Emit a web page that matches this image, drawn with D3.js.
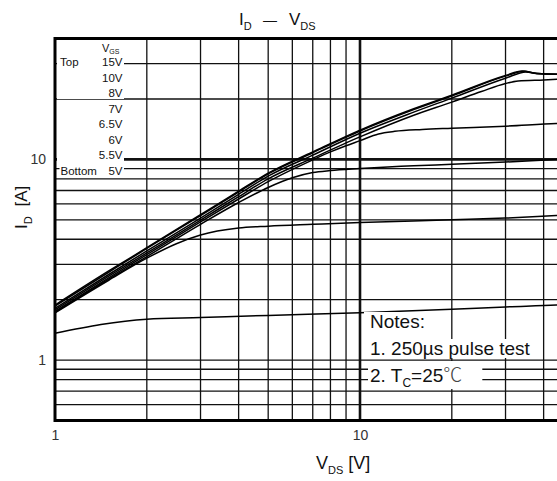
<!DOCTYPE html>
<html>
<head>
<meta charset="utf-8">
<script src="https://cdn.jsdelivr.net/npm/d3@7"></script>
<style>
  body { margin: 0; background: #fff; }
  svg { display: block; font-family: "Liberation Sans", Arial, sans-serif; }
</style>
</head>
<body>
<div id="chart"></div>
<script>
// ID - VDS output characteristics
const vgsLabels = ['15V', '10V', '8V', '7V', '6.5V', '6V', '5.5V', '5V'];

// [VDS (V), ID (A)] per gate voltage
const curve15V = [[1,1.88],[1.5,2.78],[2,3.63],[3,5.3],[4,6.95],[5,8.55],[7,10.9],[10,14.0],[15,17.9],[20,20.9],[30,26.2],[34,27.6],[38,26.8],[44,26.6],[50,26.6]];
const curve10V = [[1,1.86],[1.5,2.74],[2,3.6],[3,5.25],[4,6.88],[5,8.47],[7,10.8],[10,13.85],[15,17.7],[20,20.7],[30,26.0],[34.5,27.5],[38,26.8],[44,26.6],[50,26.6]];
const curve8V  = [[1,1.81],[1.5,2.67],[2,3.5],[3,5.1],[4,6.7],[5,8.25],[7,10.5],[10,13.5],[15,17.2],[20,20.2],[30,25.4],[35,27.3],[38,26.8],[44,26.6],[50,26.6]];
const curve7V  = [[1,1.78],[1.5,2.62],[2,3.42],[3,4.98],[4,6.52],[5,8.0],[7,10.15],[10,12.95],[15,16.6],[20,19.3],[25,21.8],[30,23.9],[33,24.6],[40,24.9],[50,25.3]];
const curve6_5V = [[1,1.75],[1.5,2.57],[2,3.35],[3,4.88],[4,6.35],[5,7.75],[7,9.95],[8,10.9],[9,11.7],[10,12.4],[11.5,13.4],[13,13.8],[16,14.1],[20,14.3],[30,14.65],[44,15.1],[50,15.2]];
const curve6V  = [[1,1.73],[1.5,2.53],[2,3.28],[3,4.75],[4,6.1],[5,7.25],[6,8.1],[7,8.6],[8,8.8],[10,9.0],[15,9.3],[20,9.45],[30,9.7],[44,10.0],[50,10.1]];
const curve5_5V = [[1,1.72],[1.5,2.5],[2,3.22],[2.5,3.8],[3,4.2],[4,4.55],[5,4.65],[7,4.75],[10,4.85],[20,5.0],[30,5.1],[44,5.25],[50,5.3]];
const curve5V  = [[1,1.36],[2,1.6],[3,1.63],[5,1.67],[10,1.72],[20,1.79],[30,1.84],[44,1.88],[50,1.9]];

const curves = [curve15V, curve10V, curve8V, curve7V, curve6_5V, curve6V, curve5_5V, curve5V];

const xGridValues = [1,2,3,4,5,6,7,8,9,10,20,30,40,50,60,70,80,90];
const yGridValues = [0.5,0.6,0.7,0.8,0.9,1,2,3,4,5,6,7,8,9,10,20,30];
const xTickValues = [1, 10];
const yTickValues = [1, 10];
const noteLines = ['Notes:', '1. 250\u00b5s pulse test'];

const W = 557, H = 481;
const plotLeft = 55, plotTop = 38.6, plotBottom = 420.5;

const svg = d3.select('#chart').append('svg')
    .attr('width', W).attr('height', H);

// the chart is cut off on the right, so the x range runs past the page
const x = d3.scaleLog().domain([1, 100]).range([plotLeft, plotLeft + 610]);
const y = d3.scaleLog().domain([0.5, 40]).range([plotBottom, plotTop]);

// grid
const grid = svg.append('g');
grid.selectAll('line.v').data(xGridValues).join('line')
    .attr('x1', d => x(d)).attr('x2', d => x(d))
    .attr('y1', plotTop).attr('y2', plotBottom)
    .attr('stroke', '#111')
    .attr('stroke-width', d => d === 10 ? 2.6 : 1.3);
grid.selectAll('line.h').data(yGridValues).join('line')
    .attr('x1', plotLeft).attr('x2', W + 10)
    .attr('y1', d => y(d)).attr('y2', d => y(d))
    .attr('stroke', '#111')
    .attr('stroke-width', d => d === 10 ? 2.6 : 1.3);

// curves
const line = d3.line()
    .x(d => x(d[0])).y(d => y(d[1]))
    .curve(d3.curveMonotoneX);
svg.append('g').selectAll('path').data(curves).join('path')
    .attr('d', line)
    .attr('fill', 'none')
    .attr('stroke', '#000')
    .attr('stroke-width', 1.5);

// text with a white patch behind it
function boxed(g, pad) {
    const b = g.select('text').node().getBBox();
    g.insert('rect', 'text')
        .attr('x', b.x - pad[0]).attr('y', b.y - pad[1])
        .attr('width', b.width + pad[0] + pad[2])
        .attr('height', b.height + pad[1] + pad[3])
        .attr('fill', '#fff');
}

// legend
const legend = svg.append('g').attr('font-size', 11.5).attr('fill', '#111');
vgsLabels.forEach((lab, i) => {
    const base = 66 + i * 15.5;
    const row = legend.append('g');
    const rx = i === 7 ? 59.5 : 57;
    row.append('rect')
        .attr('x', rx).attr('y', base - 9.5)
        .attr('width', 124 - rx).attr('height', 11.5)
        .attr('fill', '#fff');
    row.append('text').attr('x', 122.5).attr('y', base)
        .attr('text-anchor', 'end').text(lab);
    if (i === 0) row.append('text').attr('x', 60).attr('y', base).text('Top');
    if (i === 7) row.append('text').attr('x', 60.5).attr('y', base).text('Bottom');
});
const vgs = legend.append('text').attr('x', 102).attr('y', 52).attr('font-size', 11);
vgs.append('tspan').text('V');
vgs.append('tspan').attr('font-size', 7).attr('dy', 1.5).text('GS');

// notes
const notes = svg.append('g').attr('font-size', 19).attr('fill', '#111');
noteLines.forEach((t, i) => {
    const g = notes.append('g');
    g.append('text').attr('x', 370).attr('y', 328 + i * 27).text(t);
    boxed(g, [6, -1, 3, -1]);
});
const n2 = notes.append('g');
const t2 = n2.append('text').attr('x', 370).attr('y', 382);
t2.append('tspan').text('2. T');
t2.append('tspan').attr('font-size', 12).attr('dy', 5).text('C');
t2.append('tspan').attr('dy', -5).text('=25');
t2.append('tspan').attr('font-family', '"Noto Sans CJK SC", "DejaVu Sans", sans-serif')
    .attr('font-weight', 300).attr('fill', '#444').text('\u2103');
boxed(n2, [2, -1, 20, -1]);

// axes
const xAxis = svg.append('g').attr('transform', `translate(0,${plotBottom})`)
    .call(d3.axisBottom(x).tickValues(xTickValues).tickSize(0).tickPadding(10)
        .tickFormat(d3.format('d')));
const yAxis = svg.append('g').attr('transform', `translate(${plotLeft},0)`)
    .call(d3.axisLeft(y).tickValues(yTickValues).tickSize(0).tickPadding(9)
        .tickFormat(d3.format('d')));
[xAxis, yAxis].forEach(a => {
    a.select('.domain').remove();
    a.selectAll('text').attr('font-size', 14).attr('fill', '#333')
        .attr('font-family', '"Liberation Sans", Arial, sans-serif');
});

// frame
svg.append('path')
    .attr('d', `M${W + 10},${plotTop} H${plotLeft} V${plotBottom} H${W + 10}`)
    .attr('fill', 'none').attr('stroke', '#000').attr('stroke-width', 3);

// titles
const title = svg.append('text').attr('y', 25).attr('font-size', 17).attr('fill', '#111');
title.append('tspan').attr('x', 239).text('I');
title.append('tspan').attr('font-size', 11).attr('dy', 5).text('D');
title.append('tspan').attr('x', 263).attr('dy', -5).attr('font-size', 14).text('\u2014');
title.append('tspan').attr('x', 289).text('V');
title.append('tspan').attr('font-size', 11).attr('dy', 5).text('DS');

const xLabel = svg.append('text').attr('x', 316).attr('y', 469)
    .attr('font-size', 18).attr('fill', '#111');
xLabel.append('tspan').text('V');
xLabel.append('tspan').attr('font-size', 11).attr('dy', 5).text('DS');
xLabel.append('tspan').attr('dy', -5).text(' [V]');

const yLabel = svg.append('text')
    .attr('transform', 'translate(27,229) rotate(-90)')
    .attr('font-size', 17).attr('fill', '#111');
yLabel.append('tspan').text('I');
yLabel.append('tspan').attr('font-size', 11).attr('dy', 5).text('D');
yLabel.append('tspan').attr('dy', -5).attr('dx', 5).text(' [A]');
</script>
</body>
</html>
